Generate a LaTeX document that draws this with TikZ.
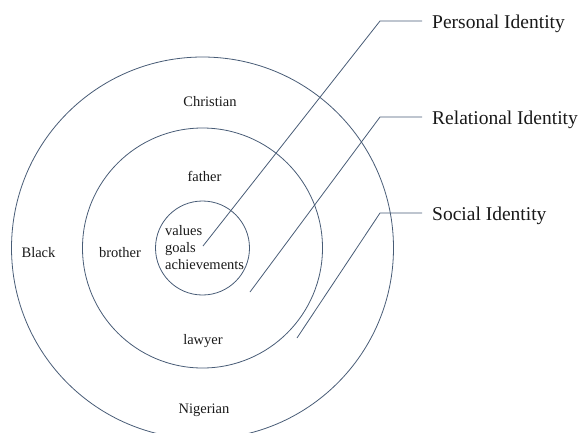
\documentclass[tikz,border=0pt]{standalone}
\usepackage{fontspec}
\setmainfont{Liberation Serif}
\definecolor{ringcol}{RGB}{72,92,118}
\definecolor{txtcol}{RGB}{25,25,25}
\begin{document}
\begin{tikzpicture}[x=1pt,y=-1pt,
  ring/.style={circle,draw=ringcol,line width=0.8pt,inner sep=0pt},
  lead/.style={draw=ringcol,line width=0.8pt},
  lbl/.style={text=txtcol,font=\fontsize{14.5}{16}\selectfont,inner sep=0pt},
  idlbl/.style={text=txtcol,font=\fontsize{19.5}{22}\selectfont,inner xsep=10pt,inner ysep=0pt,anchor=base west}]
\useasboundingbox (0,0) rectangle (582,432);
\clip (0,0) rectangle (582,432);
\coordinate (c) at (202.5,248);
\node[ring,minimum size=382pt] (outer) at (c) {};
\node[ring,minimum size=240pt] (middle) at (c) {};
\node[ring,minimum size=94pt] (inner) at (c) {};
% labels
\node[lbl,anchor=base] (christian) at (210,106.5) {Christian};
\node[lbl,anchor=base] (father) at (204.5,181.5) {father};
\node[lbl,anchor=base] (black) at (38.5,257) {Black};
\node[lbl,anchor=base] (brother) at (120,257) {brother};
\node[lbl,anchor=base] (lawyer) at (203,344) {lawyer};
\node[lbl,anchor=base] (nigerian) at (204,413) {Nigerian};
\node[lbl,anchor=base west] (values) at (165,235) {values};
\node[lbl,anchor=base west] (goals) at (165,252) {goals};
\node[lbl,anchor=base west] (achieve) at (165,269) {achievements};
% identity labels
\node[idlbl] (personal) at (422,28) {Personal Identity};
\node[idlbl] (relational) at (422,124) {Relational Identity};
\node[idlbl] (social) at (422,220) {Social Identity};
% leader lines
\coordinate (pe) at (203,246);
\coordinate (pk) at (380,21);
\coordinate (re) at (250,292);
\coordinate (rk) at (380,117);
\coordinate (se) at (297,338);
\coordinate (sk) at (380,213);
\draw[lead] (pe) -- (pk) -- (pk -| personal.west);
\draw[lead] (re) -- (rk) -- (rk -| relational.west);
\draw[lead] (se) -- (sk) -- (sk -| social.west);
\end{tikzpicture}
\end{document}
